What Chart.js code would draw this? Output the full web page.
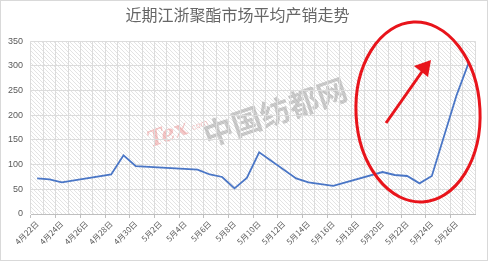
<!DOCTYPE html>
<html>
<head>
<meta charset="utf-8">
<script src="https://cdn.jsdelivr.net/npm/chart.js@4"></script>
<style>
  body { margin: 0; background: #fff; }
  #wrap { width: 488px; height: 261px; position: relative; }
</style>
</head>
<body>
<div id="wrap"><canvas id="myChart"></canvas></div>
<script>
const days = ['4月22日', '4月23日', '4月24日', '4月25日', '4月26日', '4月27日', '4月28日', '4月29日', '4月30日',
    '5月1日', '5月2日', '5月3日', '5月4日', '5月5日', '5月6日', '5月7日', '5月8日', '5月9日', '5月10日',
    '5月11日', '5月12日', '5月13日', '5月14日', '5月15日', '5月16日', '5月17日', '5月18日', '5月19日', '5月20日',
    '5月21日', '5月22日', '5月23日', '5月24日', '5月25日', '5月26日', '5月27日'];

// days without a reading are left null and the line spans over them
const avgSales = [72, 70, 64, null, null, null, 80, 119, 97,
    null, null, null, null, 90, 80, 75, 52, 73, 125,
    null, null, 72, 64, null, 57, null, null, null, 85,
    79, 77, 62, 77, null, 240, 307];

const yTicks = [0, 50, 100, 150, 200, 250, 300, 350];

const titleText = '近期江浙聚酯市场平均产销走势';

// hatch fill for the plot area
let pc = document.createElement('canvas');
pc.width = 4; pc.height = 4;
let pctx = pc.getContext('2d');
pctx.strokeStyle = '#e3e3e3';
pctx.lineWidth = 1;
pctx.beginPath();
pctx.moveTo(-1, -1); pctx.lineTo(5, 5);
pctx.moveTo(-1, 3); pctx.lineTo(1, 5);
pctx.moveTo(3, -1); pctx.lineTo(5, 1);
pctx.stroke();

const backdrop = {
    id: 'backdrop',
    beforeDraw(chart) {
        const { ctx, chartArea: a } = chart;
        ctx.save();
        ctx.fillStyle = ctx.createPattern(pc, 'repeat');
        ctx.fillRect(a.left, a.top, a.right - a.left, a.bottom - a.top);
        // watermark
        ctx.save();
        ctx.translate(275, 112);
        ctx.rotate(-0.33);
        ctx.font = 'bold 30px "Noto Sans CJK SC"';
        ctx.fillStyle = 'rgba(140,140,140,0.45)';
        ctx.textAlign = 'center';
        ctx.textBaseline = 'middle';
        ctx.fillText('中国纺都网', 0, 0);
        ctx.restore();
        ctx.translate(168, 135);
        ctx.rotate(-0.35);
        ctx.textAlign = 'center';
        ctx.textBaseline = 'middle';
        ctx.font = 'italic bold 22px "DejaVu Serif"';
        ctx.fillStyle = 'rgba(230,110,110,0.4)';
        ctx.fillText('Tex', 0, 0);
        ctx.font = '8px "DejaVu Sans"';
        ctx.fillText('.com', 32, 2);
        ctx.restore();
    },
    afterDraw(chart) {
        const ctx = chart.ctx;
        ctx.save();
        ctx.strokeStyle = '#d9d9d9';
        ctx.lineWidth = 1;
        ctx.strokeRect(0.5, 0.5, 487, 260);
        // red mark-up: ellipse and arrow
        ctx.strokeStyle = '#e8141b';
        ctx.lineWidth = 3;
        ctx.beginPath();
        ctx.ellipse(418, 112, 62, 90, -0.05, 0, Math.PI * 2);
        ctx.stroke();
        ctx.beginPath();
        ctx.moveTo(386, 123);
        ctx.lineTo(426, 66);
        ctx.stroke();
        ctx.fillStyle = '#e8141b';
        ctx.beginPath();
        ctx.moveTo(431, 60);
        ctx.lineTo(414, 66);
        ctx.lineTo(428, 77);
        ctx.closePath();
        ctx.fill();
        ctx.restore();
    }
};

const ctx = document.getElementById('myChart');

new Chart(ctx, {
    type: 'line',
    data: {
        labels: days,
        datasets: [{
            label: '平均产销',
            data: avgSales,
            borderColor: '#4a76c6',
            borderWidth: 1.8,
            pointRadius: 0,
            tension: 0,
            spanGaps: true,
            fill: false
        }]
    },
    options: {
        responsive: true,
        maintainAspectRatio: false,
        animation: false,
        layout: { padding: { left: 0, right: 13, top: 0, bottom: 0 } },
        plugins: {
            legend: { display: false },
            tooltip: { enabled: false },
            title: {
                display: true,
                text: titleText,
                color: '#666666',
                font: { family: '"Noto Sans CJK SC"', size: 16, weight: 'normal' },
                padding: { top: 5, bottom: 17 }
            }
        },
        scales: {
            x: {
                offset: true,
                grid: {
                    offset: true,
                    color: '#dcdcdc',
                    tickLength: 4,
                    tickColor: (c) => c.index % 2 === 0 ? '#bfbfbf' : 'rgba(0,0,0,0)'
                },
                border: { color: '#bfbfbf' },
                ticks: {
                    autoSkip: false,
                    minRotation: 45,
                    maxRotation: 45,
                    padding: 1,
                    color: '#595959',
                    font: { family: '"Noto Sans CJK SC"', size: 8 },
                    callback: function (v, i) { return i % 2 === 0 ? this.getLabelForValue(v) : ''; }
                },
                afterFit: (s) => { s.height = 47; }
            },
            y: {
                min: yTicks[0],
                max: yTicks[yTicks.length - 1],
                afterBuildTicks: (s) => { s.ticks = yTicks.map(v => ({ value: v })); },
                grid: { color: '#dcdcdc', drawTicks: false },
                border: { display: false },
                ticks: {
                    padding: 8,
                    color: '#595959',
                    font: { family: '"Liberation Sans"', size: 9 }
                },
                afterFit: (s) => { s.width = 31; }
            }
        }
    },
    plugins: [backdrop]
});
</script>
</body>
</html>
